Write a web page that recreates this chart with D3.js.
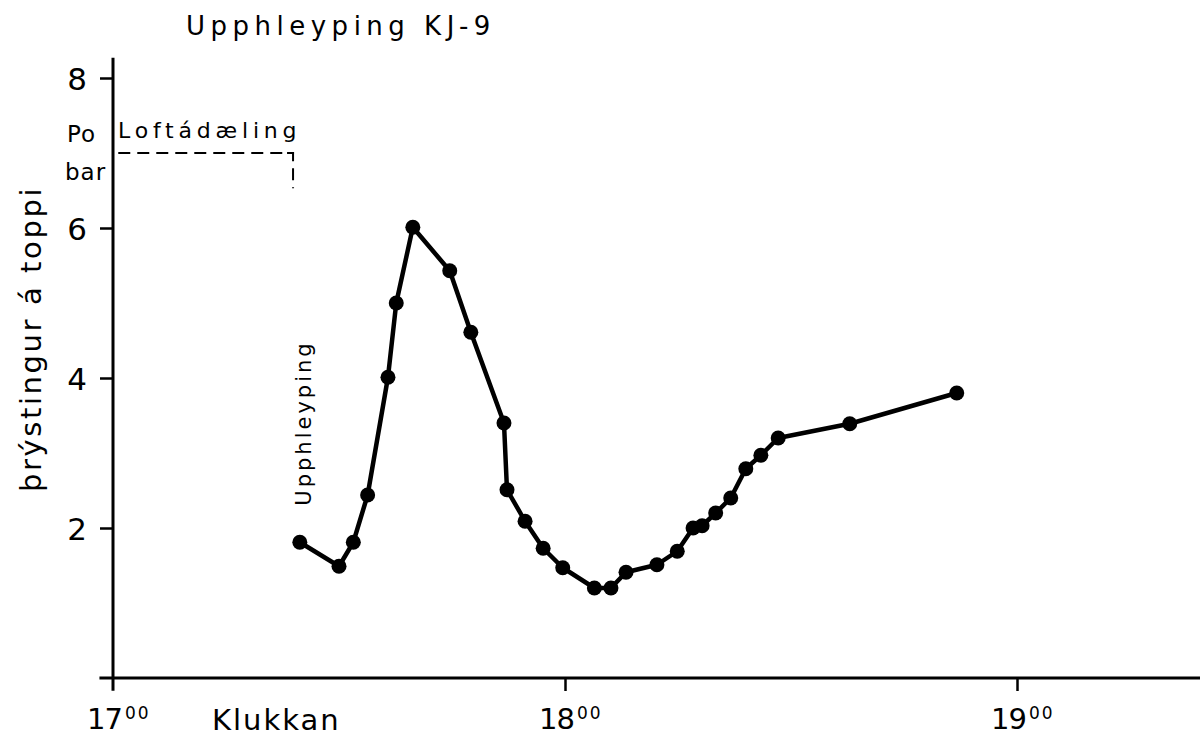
<!DOCTYPE html>
<html>
<head>
<meta charset="utf-8">
<script src="https://cdn.jsdelivr.net/npm/d3@7"></script>
<style>
  html, body { margin: 0; padding: 0; background: #fff; }
  svg { display: block; }
  text { font-family: "DejaVu Sans", sans-serif; fill: #000; }
</style>
</head>
<body>
<svg id="chart" width="1200" height="738"></svg>
<script>
// Data: minutes after 17:00 and pressure on top (bar)
const minutes = [24.8, 30.0, 31.9, 33.8, 36.5, 37.6, 39.8, 44.7, 47.5, 51.9, 52.3, 54.7, 57.1, 59.7,
                 63.9, 66.1, 68.1, 72.2, 74.9, 77.0, 78.2, 80.0, 82.0, 84.0, 86.0, 88.3, 97.8, 112.0];
const pressure = [1.81, 1.49, 1.81, 2.44, 4.01, 5.0, 6.01, 5.43, 4.61, 3.4, 2.51, 2.09, 1.73, 1.47,
                  1.2, 1.2, 1.41, 1.51, 1.69, 2.0, 2.03, 2.2, 2.4, 2.79, 2.97, 3.2, 3.39, 3.8];
const yTicks = [2, 4, 6, 8];
const xTicks = [0, 60, 120];
const xTickHours = ["17", "18", "19"];
const xTickMinutes = ["00", "00", "00"];
// Air pumping level (Loftádæling)
const pumpLevel = 7.0;
const pumpEnd = 23.9;
const pumpDrop = 6.53;

const svg = d3.select("#chart");
const x = d3.scaleLinear().domain([0, 120]).range([113, 1017]);
const y = d3.scaleLinear().domain([0, 8]).range([678, 78]);

// X axis line
svg.append("line")
  .attr("x1", x(-1.8)).attr("x2", 1200)
  .attr("y1", y(0)).attr("y2", y(0))
  .attr("stroke", "#000").attr("stroke-width", 3);

const xAxis = d3.axisBottom(x).tickValues(xTicks.slice(1)).tickSize(13).tickFormat("");
const gx = svg.append("g").attr("transform", `translate(0,${y(0)})`).call(xAxis);
gx.select(".domain").remove();
gx.selectAll(".tick line").attr("stroke", "#000").attr("stroke-width", 2.5);

// Y axis line
svg.append("line")
  .attr("x1", x(0)).attr("x2", x(0))
  .attr("y1", y(8.27)).attr("y2", y(-0.17))
  .attr("stroke", "#000").attr("stroke-width", 3);

const yAxis = d3.axisLeft(y).tickValues(yTicks).tickSize(13).tickFormat("");
const gy = svg.append("g").attr("transform", `translate(${x(0)},0)`).call(yAxis);
gy.select(".domain").remove();
gy.selectAll(".tick line").attr("stroke", "#000").attr("stroke-width", 2.5);

// Y tick labels
svg.selectAll(".ylab").data(yTicks).join("text")
  .attr("x", 87).attr("y", d => y(d) + 12)
  .attr("text-anchor", "end")
  .style("font-size", "31px")
  .text(d => d);

// X tick labels with superscript minutes
xTicks.forEach((t, i) => {
  const tx = svg.append("text")
    .attr("x", x(t) - 26).attr("y", 729)
    .style("font-size", "29px");
  tx.append("tspan").text(xTickHours[i]).style("letter-spacing", "-1px");
  tx.append("tspan").text(xTickMinutes[i]).attr("dy", -10)
    .style("font-size", "17px").style("letter-spacing", "2px").attr("dx", 3);
});

// Axis titles
svg.append("text")
  .attr("x", 212).attr("y", 730)
  .style("font-size", "29px").style("letter-spacing", "2px")
  .text("Klukkan");

svg.append("text")
  .attr("transform", `translate(41,339) rotate(-90)`)
  .attr("text-anchor", "middle")
  .style("font-size", "29px").style("letter-spacing", "2.6px")
  .text("þrýstingur á toppi");

svg.append("text")
  .attr("x", 186).attr("y", 35)
  .style("font-size", "26px").style("letter-spacing", "5.5px")
  .text("Upphleyping KJ-9");

// Units
svg.append("text").attr("x", 67).attr("y", 142).style("font-size", "23px").style("letter-spacing", "1px").text("Po");
svg.append("text").attr("x", 65).attr("y", 180).style("font-size", "23px").style("letter-spacing", "1px").text("bar");

// Air pumping dashed line
svg.append("path")
  .attr("d", d3.line()([[x(0.7), y(pumpLevel)], [x(pumpEnd), y(pumpLevel)], [x(pumpEnd), y(pumpDrop)]]))
  .attr("fill", "none").attr("stroke", "#000").attr("stroke-width", 2)
  .attr("stroke-dasharray", "12,7");
svg.append("line")
  .attr("x1", x(pumpEnd) - 6).attr("x2", x(pumpEnd) + 1)
  .attr("y1", y(pumpLevel)).attr("y2", y(pumpLevel))
  .attr("stroke", "#000").attr("stroke-width", 2);
svg.append("text")
  .attr("x", 118).attr("y", 138)
  .style("font-size", "22px").style("letter-spacing", "4.8px")
  .text("Loftádæling");

// Upphleyping annotation
svg.append("text")
  .attr("transform", `translate(${x(26.3)},${y(3.4)}) rotate(-90)`)
  .attr("text-anchor", "middle")
  .style("font-size", "21px").style("letter-spacing", "3px")
  .text("Upphleyping");

// Data line and points
const pts = minutes.map((m, i) => [m, pressure[i]]);
svg.append("path")
  .datum(pts)
  .attr("d", d3.line().x(d => x(d[0])).y(d => y(d[1])))
  .attr("fill", "none").attr("stroke", "#000").attr("stroke-width", 4.5)
  .attr("stroke-linejoin", "round");

svg.selectAll(".pt").data(pts).join("circle")
  .attr("cx", d => x(d[0])).attr("cy", d => y(d[1]))
  .attr("r", 7.5).attr("fill", "#000");
</script>
</body>
</html>
